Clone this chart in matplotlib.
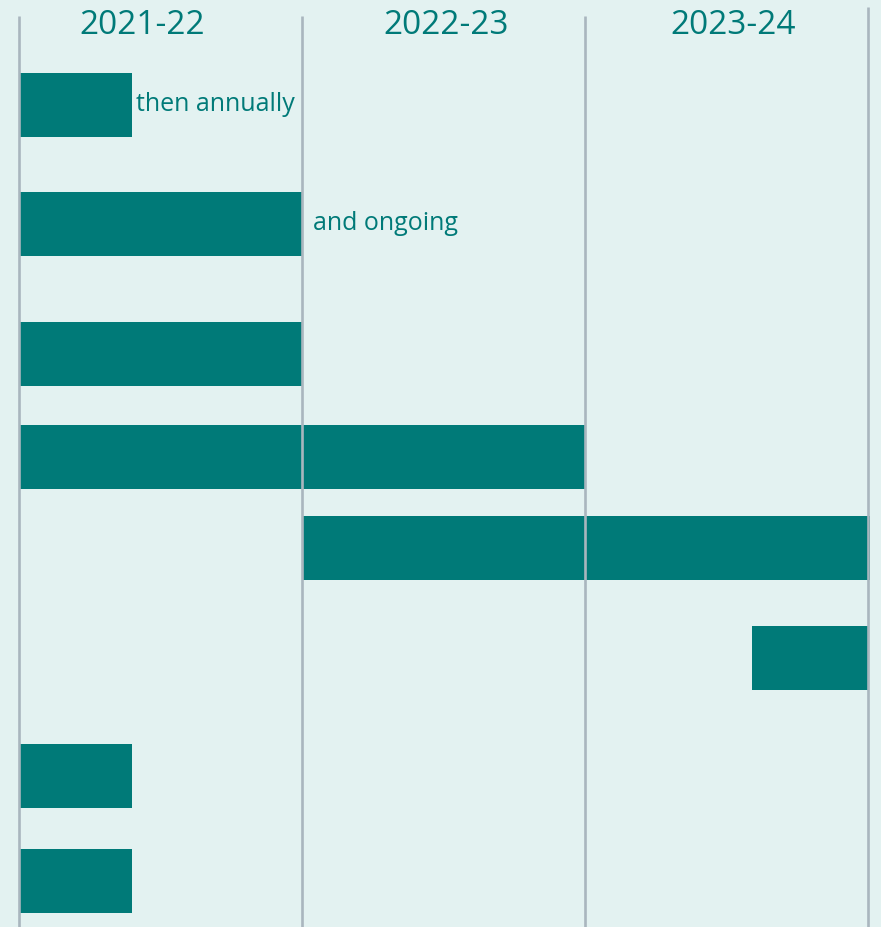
import matplotlib.pyplot as plt

# timeline rows (years from start of 2021-22)
starts = [0, 0, 0, 0, 1, 2.59, 0, 0]
lengths = [0.4, 1, 1, 2, 2.007, 0.41, 0.4, 0.4]
rows = [105, 224, 354, 457, 548, 658, 776, 881]  # row centres, px from top
notes = {0: "then annually", 1: "and ongoing"}
note_gap = {0: 3, 1: 8}

years = ["2021-22", "2022-23", "2023-24"]
year_pos = [0.436, 1.509, 2.523]
bounds = [0, 1, 2, 3]
bound_top = [17, 17, 17, 8]

bg = "#E3F2F1"
teal = "#007A78"
grey = "#A9B6BE"

plt.rcParams['font.family'] = ['Open Sans', 'DejaVu Sans']

fig = plt.figure(figsize=(8.81, 9.28), dpi=100)
fig.patch.set_facecolor(bg)
ax = fig.add_axes([0, 0, 1, 1])
ax.set_facecolor(bg)

ax.barh([r + 1 for r in rows], lengths, left=starts, height=64, color=teal, zorder=2)

for i, txt in notes.items():
    ax.annotate(txt, xy=(starts[i] + lengths[i], rows[i] + 1), xytext=(note_gap[i], -3.5),
                textcoords="offset points", va="baseline", ha="left",
                fontsize=18, color=teal, zorder=4)

for x, top in zip(bounds, bound_top):
    ax.vlines(x, top, 928, color=grey, linewidth=1.9, zorder=3)

for x, lab in zip(year_pos, years):
    ax.text(x, 34, lab, ha="center", va="baseline", fontsize=24, color=teal)

ax.set_xlim(-19 / 283, 3 + 13 / 283)
ax.set_ylim(928, 0)
ax.axis("off")

fig.savefig("out.png", dpi=100, facecolor=bg)
